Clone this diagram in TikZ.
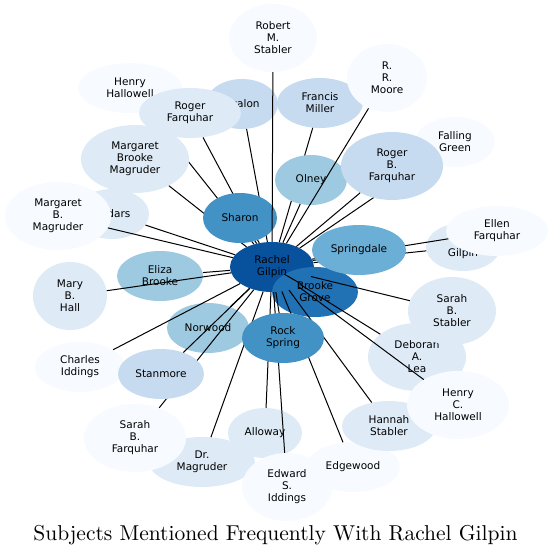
\documentclass[tikz,border=0pt]{standalone}
\usepackage{fontspec}
\usepackage{tikz}
\usetikzlibrary{shapes.geometric}
\newfontfamily\labelfont{DejaVu Sans}
\newfontfamily\titlefont{lmroman10-regular}[Extension=.otf]
\definecolor{BlueA}{HTML}{08519C}
\definecolor{BlueB}{HTML}{2171B5}
\definecolor{BlueC}{HTML}{4292C6}
\definecolor{BlueD}{HTML}{6BAED6}
\definecolor{BlueE}{HTML}{9ECAE1}
\definecolor{BlueF}{HTML}{C6DBEF}
\definecolor{BlueG}{HTML}{DEEBF7}
\definecolor{BlueH}{HTML}{F7FBFF}
\tikzset{
  web/topic/.style={ellipse, inner sep=0pt, align=center, font=\labelfont\fontsize{10.5}{12}\selectfont},
  web/short/.style={web/topic, minimum height=50pt},
  web/tall/.style={web/topic, minimum height=68pt},
  web/l1/.style={fill=BlueA}, web/l2/.style={fill=BlueB},
  web/l3/.style={fill=BlueC}, web/l4/.style={fill=BlueD},
  web/l5/.style={fill=BlueE}, web/l6/.style={fill=BlueF},
  web/l7/.style={fill=BlueG}, web/l8/.style={fill=BlueH},
  web/link/.style={line width=1pt},
  web/title/.style={font=\titlefont\fontsize{21.5}{26}\selectfont, anchor=base, inner sep=0pt}
}
\begin{document}
\begin{tikzpicture}[x=1pt, y=-1pt]
\useasboundingbox (0,0) rectangle (552,555);
% centre of the web
\node[web/short, web/l1, minimum width=84pt] (rg) at (272,267) {Rachel\\Gilpin};
\node[web/short, web/l2, minimum width=86pt] (bg) at (315,292) {Brooke\\Grove};
\draw[web/link] (rg) -- (bg);
% upper left
\node[web/short, web/l7, minimum width=74pt] (ced) at (112,214) {Cedars};
\draw[web/link] (rg) -- (ced);
\node[web/tall, web/l8, minimum width=106pt] (mbmag) at (58,216) {Margaret\\B.\\Magruder};
\draw[web/link] (rg) -- (mbmag);
\node[web/short, web/l8, minimum width=104pt] (hh) at (130,88) {Henry\\Hallowell};
\draw[web/link] (rg) -- (hh);
\node[web/short, web/l6, minimum width=72pt] (ava) at (242,104) {Avalon};
\draw[web/link] (rg) -- (ava);
\node[web/tall, web/l7, minimum width=108pt] (mbrm) at (135,159) {Margaret\\Brooke\\Magruder};
\draw[web/link] (rg) -- (mbrm);
\node[web/short, web/l7, minimum width=102pt] (rf) at (190,113) {Roger\\Farquhar};
\draw[web/link] (rg) -- (rf);
\node[web/short, web/l3, minimum width=74pt] (sha) at (240,218) {Sharon};
\draw[web/link] (rg) -- (sha);
% upper right
\node[web/tall, web/l8, minimum width=88pt] (rms) at (273,38) {Robert\\M.\\Stabler};
\draw[web/link] (rg) -- (rms);
\node[web/short, web/l6, minimum width=86pt] (fm) at (320,103) {Francis\\Miller};
\draw[web/link] (rg) -- (fm);
\node[web/short, web/l5, minimum width=72pt] (oln) at (311,180) {Olney};
\draw[web/link] (rg) -- (oln);
\node[web/tall, web/l8, minimum width=80pt] (rrm) at (387,78) {R.\\R.\\Moore};
\draw[web/link] (rg) -- (rrm);
\node[web/short, web/l8, minimum width=80pt] (fg) at (455,142) {Falling\\Green};
\draw[web/link] (rg) -- (fg);
\node[web/tall, web/l6, minimum width=102pt] (rbf) at (392,166) {Roger\\B.\\Farquhar};
\draw[web/link] (rg) -- (rbf);
\node[web/short, web/l7, minimum width=74pt, minimum height=48pt] (gil) at (463,247) {\strut\\Gilpin};
\draw[web/link] (rg) -- (gil);
\node[web/short, web/l8, minimum width=102pt] (ef) at (497,231) {Ellen\\Farquhar};
\draw[web/link] (rg) -- (ef);
\node[web/short, web/l4, minimum width=94pt] (spr) at (359,250) {Springdale};
\draw[web/link] (rg) -- (spr);
% lower left
\node[web/short, web/l5, minimum width=86pt] (eb) at (160,276) {Eliza\\Brooke};
\draw[web/link] (rg) -- (eb);
\node[web/tall, web/l7, minimum width=74pt] (mbh) at (70,296) {Mary\\B.\\Hall};
\draw[web/link] (rg) -- (mbh);
\node[web/short, web/l5, minimum width=82pt] (nor) at (208,328) {Norwood};
\draw[web/link] (rg) -- (nor);
\node[web/short, web/l8, minimum width=90pt] (ci) at (80,367) {Charles\\Iddings};
\draw[web/link] (rg) -- (ci);
\node[web/short, web/l7, minimum width=106pt] (drm) at (202,462) {Dr.\\Magruder};
\draw[web/link] (rg) -- (drm);
\node[web/tall, web/l8, minimum width=102pt] (sbf) at (135,438) {Sarah\\B.\\Farquhar};
\draw[web/link] (rg) -- (sbf);
\node[web/short, web/l6, minimum width=86pt] (sta) at (161,374) {Stanmore};
\draw[web/link] (rg) -- (sta);
% lower right
\node[web/short, web/l7, minimum width=74pt] (all) at (265,433) {Alloway};
\draw[web/link] (rg) -- (all);
\node[web/short, web/l8, minimum width=94pt] (edg) at (353,467) {Edgewood};
\draw[web/link] (rg) -- (edg);
\node[web/short, web/l7, minimum width=94pt] (hs) at (389,426) {Hannah\\Stabler};
\draw[web/link] (rg) -- (hs);
\node[web/tall, web/l8, minimum width=90pt] (esi) at (287,487) {Edward\\S.\\Iddings};
\draw[web/link] (rg) -- (esi);
\node[web/short, web/l3, minimum width=82pt] (rs) at (283,338) {Rock\\Spring};
\draw[web/link] (rg) -- (rs);
\node[web/tall, web/l7, minimum width=98pt] (dal) at (417,357) {Deborah\\A.\\Lea};
\draw[web/link] (rg) -- (dal);
\node[web/tall, web/l7, minimum width=88pt] (sbs) at (452,311) {Sarah\\B.\\Stabler};
\draw[web/link] (rg) -- (sbs);
\node[web/tall, web/l8, minimum width=102pt] (hch) at (458,405) {Henry\\C.\\Hallowell};
\draw[web/link] (rg) -- (hch);
% title
\node[web/title] (ttl) at (275.5,540) {Subjects Mentioned Frequently With Rachel Gilpin};
\end{tikzpicture}
\end{document}
